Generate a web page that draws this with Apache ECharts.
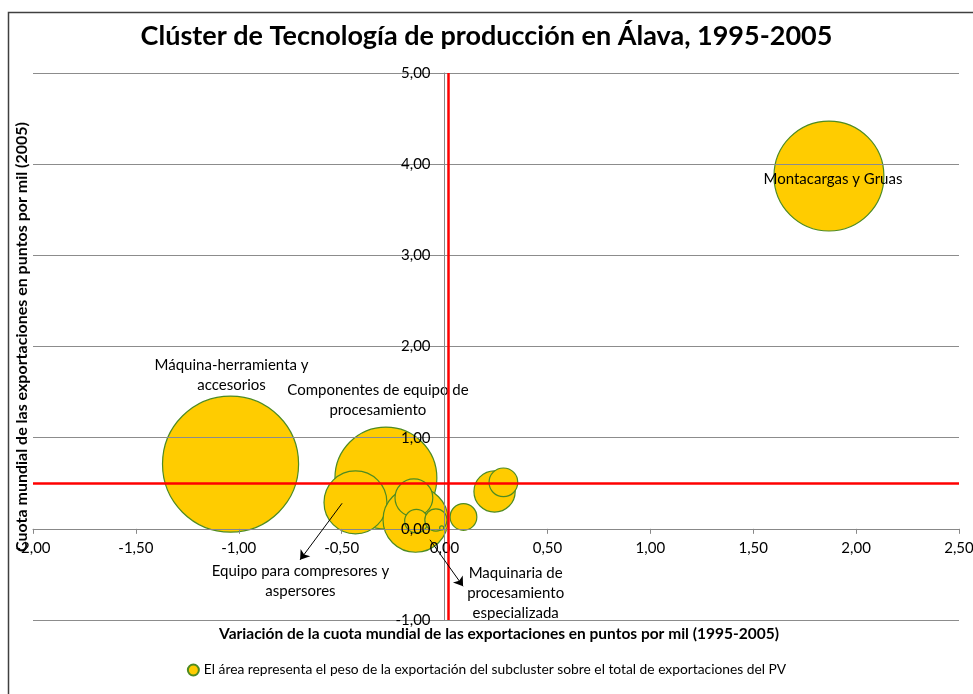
<!DOCTYPE html>
<html><head><meta charset="utf-8">
<script src="https://cdn.jsdelivr.net/npm/echarts@6/dist/echarts.min.js"></script>
<style>html,body{margin:0;padding:0;background:#fff}#c{width:973px;height:694px}</style>
</head><body><div id="c"></div>
<script>
// ---- data ----
var bubbleNames = ['Máquina-herramienta y accesorios','Componentes de equipo de procesamiento','Equipo para compresores y aspersores','Subcluster 4','Subcluster 5','Subcluster 6','Subcluster 7','Maquinaria de procesamiento especializada','Subcluster 9','Subcluster 10','Subcluster 11','Montacargas y Gruas'];
var xValues = [-1.04, -0.285, -0.433, -0.141, -0.149, -0.137, -0.042, -0.014, 0.092, 0.243, 0.286, 1.868];
var yValues = [0.71, 0.557, 0.29, 0.10, 0.34, 0.085, 0.097, 0.01, 0.13, 0.41, 0.51, 3.87];
var weights = [33.7, 18.9, 7.2, 7.7, 2.6, 1.0, 0.9, 0.03, 1.3, 3.1, 1.5, 22.0]; // % of exports
var refX = 0.02;
var refY = 0.5;
var xTicks = [-2, -1.5, -1, -0.5, 0, 0.5, 1, 1.5, 2, 2.5];
var yTicks = [-1, 0, 1, 2, 3, 4, 5];
var titleText = 'Clúster de Tecnología de producción en Álava, 1995-2005';
var xName = 'Variación de la cuota mundial de las exportaciones en puntos por mil (1995-2005)';
var yName = 'Cuota mundial de las exportaciones en puntos por mil (2005)';
var legendText = 'El área representa el peso de la exportación del subcluster sobre el total de exportaciones del PV';

// ---- annotation layout (not data) ----
var labelText = {
  0: 'Máquina-herramienta y\naccesorios',
  1: 'Componentes de equipo de\nprocesamiento',
  2: 'Equipo para compresores y\naspersores',
  7: 'Maquinaria de\nprocesamiento\nespecializada',
  11: 'Montacargas y Gruas'
};
var labelOffset = {0:[1,-89],1:[-8,-78],2:[-55,79],7:[74,65],11:[4,3]};

var FONT = 'Lato';
function fmt(v){ return v.toFixed(2).replace('.', ','); }

var data = xValues.map(function(x,i){
  var item = {name: bubbleNames[i], value:[x, yValues[i], weights[i]]};
  if (labelText[i]) {
    item.label = {show:true, position:'inside', formatter: labelText[i], offset: labelOffset[i],
      color:'#000', fontFamily:FONT, fontSize:15, lineHeight:20, align:'center'};
  }
  return item;
});

var chart = echarts.init(document.getElementById('c'), null, {renderer:'canvas'});
var option = {
  animation:false,
  backgroundColor:'#fff',
  title:{text:titleText, left:'center', top:18, textStyle:{fontFamily:FONT, fontWeight:'bold', fontSize:27, color:'#000'}},
  grid:{left:33, right:14, top:73, bottom:74, containLabel:false, outerBoundsMode:'none'},
  xAxis:{type:'value', min:xTicks[0], max:xTicks[xTicks.length-1], interval:0.5, z:3,
    axisLine:{onZero:false, lineStyle:{color:'#888', width:1}},
    axisTick:{show:true, length:5, lineStyle:{color:'#888'}},
    axisLabel:{formatter:fmt, fontFamily:FONT, fontSize:15, color:'#000', margin:12},
    splitLine:{show:false}},
  yAxis:{type:'value', min:yTicks[0], max:yTicks[yTicks.length-1], interval:1, z:3,
    axisLine:{show:true, onZero:false, lineStyle:{color:'#888', width:1}},
    axisTick:{show:true, length:5, lineStyle:{color:'#888'}},
    axisLabel:{formatter:fmt, fontFamily:FONT, fontSize:15, color:'#000', margin:14},
    splitLine:{show:true, lineStyle:{color:'#8c8c8c', width:1}}},
  legend:{bottom:12, left:'center', icon:'circle', itemWidth:11, itemHeight:11, itemGap:4,
    data:[legendText], textStyle:{fontFamily:FONT, fontSize:13.8, color:'#000'}},
  series:[{
    name:legendText, type:'scatter', data:data,
    symbolSize:function(v){ return 23.44*Math.sqrt(v[2]); },
    itemStyle:{color:'#FFCC00', borderColor:'#4E8B22', borderWidth:1.2, opacity:1},
    emphasis:{disabled:true}, z:2
  },{
    name:'ref', type:'scatter', data:[], z:5,
    markLine:{silent:true, symbol:'none', label:{show:false},
      lineStyle:{color:'#FF0000', width:2.5, type:'solid'},
      data:[{xAxis:refX},{yAxis:refY}]}
  },{
    name:'arrows', type:'scatter', data:[], z:6,
    markLine:{silent:true, symbol:['none','arrow'], symbolSize:9, label:{show:false},
      lineStyle:{color:'#000', width:1, type:'solid'},
      data:[
        [{coord:[-0.498,0.28]},{coord:[-0.702,-0.34]}],
        [{coord:[-0.071,-0.12]},{coord:[0.09,-0.63]}]
      ]}
  }],
  graphic:[
    {type:'rect', left:6, top:10, z:-1, shape:{width:985, height:700}, style:{fill:'none', stroke:'#404040', lineWidth:1.5}, silent:true},
    {type:'text', x:499, y:634, style:{text:xName, fontFamily:FONT, fontWeight:'bold', fontSize:15.5, fill:'#000', textAlign:'center', textVerticalAlign:'middle'}},
    {type:'text', x:22, y:337, rotation:Math.PI/2, style:{text:yName, fontFamily:FONT, fontWeight:'bold', fontSize:16, fill:'#000', textAlign:'center', textVerticalAlign:'middle'}}
  ]
};
chart.setOption(option);
// place axes so they cross at the origin (Excel-style)
var origin = chart.convertToPixel({gridIndex:0}, [0, 0]);
var bottomY = chart.convertToPixel({gridIndex:0}, [0, yTicks[0]])[1];
var leftX = chart.convertToPixel({gridIndex:0}, [xTicks[0], 0])[0];
chart.setOption({
  xAxis:{offset: -(bottomY - origin[1])},
  yAxis:{offset: -(origin[0] - leftX)}
});
</script></body></html>
